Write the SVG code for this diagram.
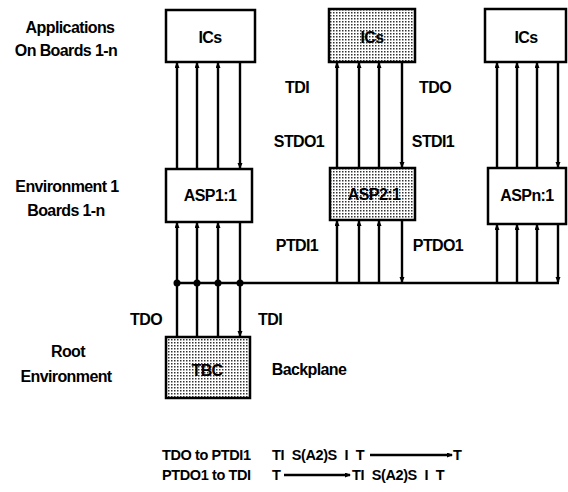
<svg xmlns="http://www.w3.org/2000/svg" width="568" height="492" viewBox="0 0 568 492">
<style>
text{font-family:"Liberation Sans",Arial,sans-serif;font-weight:bold;font-size:16px;letter-spacing:-0.6px;fill:#000}
.c{text-anchor:middle}
.box{stroke:#000;stroke-width:2.5}
.plain{fill:#fff}
.shade{fill:url(#stip)}
.ln{stroke:#000;stroke-width:2.4;fill:none}
.bt{font-size:14.5px;letter-spacing:-0.4px;word-spacing:4px}
</style>
<defs>
<pattern id="stip" width="3" height="3" patternUnits="userSpaceOnUse">
<rect width="3" height="3" fill="#fff"/>
<rect width="1.5" height="1.5" fill="#333"/>
</pattern>
<marker id="ah" markerUnits="userSpaceOnUse" markerWidth="6" markerHeight="6" refX="5" refY="2.5" orient="auto">
<path d="M0,0 L6,2.5 L0,5 z" fill="#000"/>
</marker>
</defs>

<g id="connectors">
<line class="ln" x1="177" y1="169" x2="177" y2="63" marker-end="url(#ah)"/>
<line class="ln" x1="197" y1="169" x2="197" y2="63" marker-end="url(#ah)"/>
<line class="ln" x1="218" y1="169" x2="218" y2="63" marker-end="url(#ah)"/>
<line class="ln" x1="240" y1="62" x2="240" y2="168" marker-end="url(#ah)"/>
<line class="ln" x1="177" y1="337" x2="177" y2="223" marker-end="url(#ah)"/>
<line class="ln" x1="197" y1="337" x2="197" y2="223" marker-end="url(#ah)"/>
<line class="ln" x1="218" y1="337" x2="218" y2="223" marker-end="url(#ah)"/>
<line class="ln" x1="240" y1="222" x2="240" y2="336" marker-end="url(#ah)"/>
<line class="ln" x1="337" y1="168" x2="337" y2="63" marker-end="url(#ah)"/>
<line class="ln" x1="359" y1="168" x2="359" y2="63" marker-end="url(#ah)"/>
<line class="ln" x1="379" y1="168" x2="379" y2="63" marker-end="url(#ah)"/>
<line class="ln" x1="402" y1="62" x2="402" y2="167" marker-end="url(#ah)"/>
<line class="ln" x1="337" y1="283" x2="337" y2="221" marker-end="url(#ah)"/>
<line class="ln" x1="359" y1="283" x2="359" y2="221" marker-end="url(#ah)"/>
<line class="ln" x1="379" y1="283" x2="379" y2="221" marker-end="url(#ah)"/>
<line class="ln" x1="402" y1="220" x2="402" y2="282" marker-end="url(#ah)"/>
<line class="ln" x1="497" y1="168" x2="497" y2="63" marker-end="url(#ah)"/>
<line class="ln" x1="517" y1="168" x2="517" y2="63" marker-end="url(#ah)"/>
<line class="ln" x1="537" y1="168" x2="537" y2="63" marker-end="url(#ah)"/>
<line class="ln" x1="558" y1="62" x2="558" y2="167" marker-end="url(#ah)"/>
<line class="ln" x1="497" y1="283" x2="497" y2="225" marker-end="url(#ah)"/>
<line class="ln" x1="517" y1="283" x2="517" y2="225" marker-end="url(#ah)"/>
<line class="ln" x1="537" y1="283" x2="537" y2="225" marker-end="url(#ah)"/>
<line class="ln" x1="558" y1="224" x2="558" y2="282" marker-end="url(#ah)"/>
<line class="ln" x1="177" y1="283" x2="559" y2="283" stroke-width="2.6"/>
<circle cx="177" cy="283" r="3.5"/>
<circle cx="197" cy="283" r="3.5"/>
<circle cx="218" cy="283" r="3.5"/>
<circle cx="240" cy="283" r="3.5"/>
</g>

<g id="ic1"><rect class="box plain" x="166" y="10" width="89" height="52"/><text class="c" x="210" y="43">ICs</text></g>
<g id="ic2"><rect class="box shade" x="329" y="9" width="86" height="53"/><text class="c" x="372" y="43">ICs</text></g>
<g id="ic3"><rect class="box plain" x="485" y="9" width="81" height="53"/><text class="c" x="526" y="43">ICs</text></g>
<g id="asp1"><rect class="box plain" x="166" y="169" width="86" height="53"/><text class="c" x="210" y="201">ASP1:1</text></g>
<g id="asp2"><rect class="box shade" x="330" y="168" width="85" height="52"/><text class="c" x="374" y="200">ASP2:1</text></g>
<g id="aspn"><rect class="box plain" x="488" y="168" width="78" height="56"/><text class="c" x="527" y="201">ASPn:1</text></g>
<g id="tbc"><rect class="box shade" x="166" y="337" width="84" height="61"/><text class="c" x="207" y="376">TBC</text></g>

<g id="labels">
<text class="c" x="70" y="33">Applications</text>
<text class="c" x="66" y="56">On Boards 1-n</text>
<text class="c" x="67" y="192">Environment 1</text>
<text class="c" x="66" y="216">Boards 1-n</text>
<text class="c" x="68" y="357">Root</text>
<text class="c" x="66" y="382">Environment</text>
<text class="c" x="297" y="93">TDI</text>
<text class="c" x="435" y="93">TDO</text>
<text class="c" x="299" y="147">STDO1</text>
<text class="c" x="433" y="147">STDI1</text>
<text class="c" x="297" y="251">PTDI1</text>
<text class="c" x="438" y="251">PTDO1</text>
<text class="c" x="146" y="325">TDO</text>
<text class="c" x="270" y="325">TDI</text>
<text class="c" x="309" y="375">Backplane</text>
</g>

<g id="legend">
<text class="bt" x="162" y="460" style="word-spacing:0">TDO to PTDI1</text>
<text class="bt" x="272" y="460">TI S(A2)S I T</text>
<line class="ln" x1="370" y1="455" x2="452" y2="455" stroke-width="1.5" marker-end="url(#ah)"/>
<text class="bt" x="453" y="460">T</text>
<text class="bt" x="162" y="480" style="word-spacing:0">PTDO1 to TDI</text>
<text class="bt" x="272" y="480">T</text>
<line class="ln" x1="284" y1="475" x2="350" y2="475" stroke-width="1.5" marker-end="url(#ah)"/>
<text class="bt" x="352" y="480">TI S(A2)S I T</text>
</g>
</svg>
